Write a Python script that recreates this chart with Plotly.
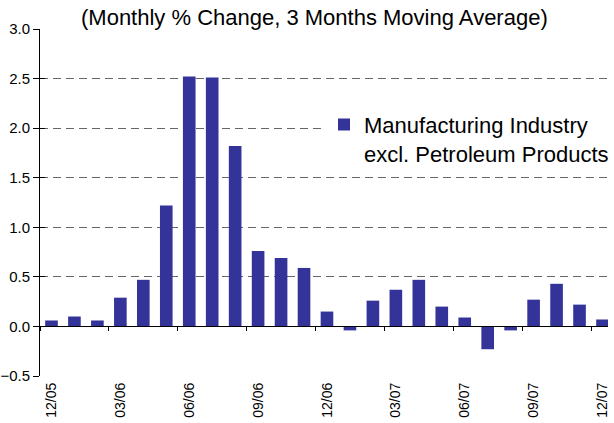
import plotly.graph_objects as go

months = ["12/05", "01/06", "02/06", "03/06", "04/06", "05/06", "06/06", "07/06", "08/06",
          "09/06", "10/06", "11/06", "12/06", "01/07", "02/07", "03/07", "04/07", "05/07",
          "06/07", "07/07", "08/07", "09/07", "10/07", "11/07", "12/07"]
values = [0.06, 0.10, 0.06, 0.29, 0.47, 1.22, 2.52, 2.51, 1.82, 0.76, 0.69, 0.59, 0.15,
          -0.04, 0.26, 0.37, 0.47, 0.20, 0.09, -0.23, -0.04, 0.27, 0.43, 0.22, 0.07]
series_name = "Manufacturing Industry<br>excl. Petroleum Products"
title_text = "(Monthly % Change, 3 Months Moving Average)"

idx = list(range(len(months)))
label_idx = idx[::3]
boundaries = [i - 0.5 for i in idx[::3]] + [len(months) - 0.5]
xrange = [-0.5, 24.24]
yrange = [-0.5, 3.0]

fig = go.Figure()
fig.add_trace(go.Bar(x=idx, y=values, name=series_name, marker_color="#333399",
                     marker_line_width=0))
# invisible helper trace so the extra axes (zero-line ticks, inner y ticks) get drawn
fig.add_trace(go.Scatter(x=[0], y=[0], xaxis="x2", yaxis="y2", mode="markers",
                         marker=dict(opacity=0), showlegend=False, hoverinfo="skip"))

fig.update_layout(
    width=614, height=423,
    margin=dict(l=40, r=0, t=29, b=47),
    paper_bgcolor="white", plot_bgcolor="white",
    font=dict(family="Liberation Sans, Arial", color="black"),
    title=dict(text=title_text, x=0.512, xanchor="center", y=0.958, yanchor="middle",
               font=dict(size=22, color="black")),
    bargap=0.45,
    showlegend=True,
    legend=dict(x=0.5, y=0.785, xanchor="left", yanchor="top", bgcolor="white",
                font=dict(size=22), itemwidth=30, valign="top"),
    xaxis=dict(range=xrange, tickvals=label_idx, ticktext=[months[i] for i in label_idx],
               tickangle=-90, ticks="", showgrid=False, zeroline=False, showline=False,
               tickfont=dict(size=14), ticklabelstandoff=3, automargin=False),
    xaxis2=dict(range=xrange, overlaying="x", anchor="free",
                position=(0 - yrange[0]) / (yrange[1] - yrange[0]),
                side="bottom", showline=True, linecolor="black", linewidth=1,
                ticks="outside", ticklen=4, tickcolor="black", tickvals=boundaries,
                showticklabels=False, showgrid=False, zeroline=False),
    yaxis=dict(range=yrange, dtick=0.5, tickformat=".1f", showline=True,
               linecolor="black", linewidth=1, ticks="outside", ticklen=6,
               tickcolor="black", showgrid=True, gridcolor="#666666", gridwidth=1,
               griddash="8px,5px", zeroline=False, tickfont=dict(size=15),
               ticklabelstandoff=0, automargin=False),
    yaxis2=dict(range=yrange, dtick=0.5, overlaying="y", anchor="x", side="left",
                ticks="inside", ticklen=5, tickcolor="black", showticklabels=False,
                showgrid=False, zeroline=False, showline=False),
)

fig.write_html("out.html", config={"displayModeBar": False},
               post_script="document.body.style.margin='0';")
